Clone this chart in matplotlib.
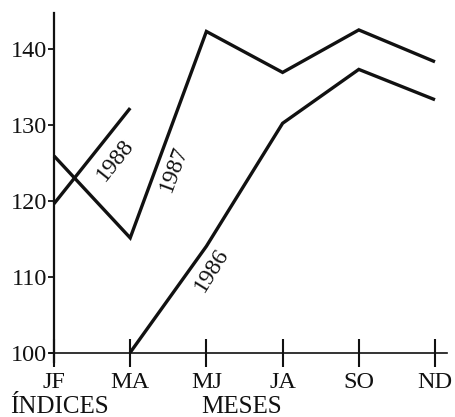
import numpy as np
import matplotlib
matplotlib.use("Agg")
import matplotlib.pyplot as plt

plt.rcParams["font.family"] = ["Liberation Serif", "DejaVu Serif"]

# Bimonthly periods and index values (base 100)
periods = ["JF", "MA", "MJ", "JA", "SO", "ND"]
idx_1986 = [np.nan, 100.0, 114.0, 130.2, 137.3, 133.3]
idx_1987 = [125.9, 115.1, 142.3, 136.9, 142.5, 138.3]
idx_1988 = [119.6, 132.2, np.nan, np.nan, np.nan, np.nan]
y_ticks = [100, 110, 120, 130, 140]

W, H, DPI = 456, 417, 100
fig = plt.figure(figsize=(W / DPI, H / DPI), dpi=DPI)
ax = fig.add_axes([0, 0, 1, 1])

# scale: one period = 76.2 px, one index point = 7.59 px
x0_px, dx_px = 54.0, 76.2
y100_px, dy_px = 352.5, 7.59
ax.set_xlim((0 - x0_px) / dx_px, (W - x0_px) / dx_px)
ax.set_ylim(100 - (H - y100_px) / dy_px, 100 + y100_px / dy_px)

xs = np.arange(len(periods))
ink = "#111111"
lw = 2.4
for ys in (idx_1986, idx_1987, idx_1988):
    ax.plot(xs, ys, color=ink, lw=lw, solid_joinstyle="miter", solid_capstyle="butt")

# axes drawn as crossing lines through the origin
for s in ("top", "right"):
    ax.spines[s].set_visible(False)
ax.spines["left"].set_position(("data", 0))
ax.spines["bottom"].set_position(("data", 100))
ax.spines["left"].set_bounds(100 - 9.5 / dy_px, 100 + 339.5 / dy_px)
ax.spines["bottom"].set_bounds(-4 / dx_px, (447 - x0_px) / dx_px)
ax.spines["left"].set_linewidth(1.6)
ax.spines["bottom"].set_linewidth(1.2)
for s in ("left", "bottom"):
    ax.spines[s].set_color(ink)

ax.set_xticks(xs)
ax.set_xticklabels(periods)
ax.set_yticks(y_ticks)
ax.set_yticklabels([str(v) for v in y_ticks])
ax.tick_params(axis="x", direction="inout", length=20, width=1.5, pad=4,
               labelsize=17.5, colors=ink)
ax.tick_params(axis="y", direction="out", length=4.5, width=1.3, pad=0.5,
               labelsize=17.5, colors=ink)


def seg_angle(x_a, y_a, x_b, y_b):
    pa = ax.transData.transform((x_a, y_a))
    pb = ax.transData.transform((x_b, y_b))
    return np.degrees(np.arctan2(pb[1] - pa[1], pb[0] - pa[0]))


fig.canvas.draw()
labels = [
    ("1988", 0.80, 125.3, seg_angle(0, idx_1988[0], 1, idx_1988[1])),
    ("1987", 1.57, 124.2, seg_angle(1, idx_1987[1], 2, idx_1987[2])),
    ("1986", 2.07, 110.8, seg_angle(2, idx_1986[2], 3, idx_1986[3])),
]
for txt, lx, ly, ang in labels:
    ax.text(lx, ly, txt, rotation=ang, rotation_mode="anchor",
            ha="center", va="center", fontsize=17, color=ink)

fig.text(10 / W, 1 - 413 / H, "ÍNDICES", ha="left", va="baseline",
         fontsize=18, color=ink)
fig.text(242 / W, 1 - 413 / H, "MESES", ha="center", va="baseline",
         fontsize=18, color=ink)

fig.savefig("out.png", dpi=DPI, facecolor="white")
